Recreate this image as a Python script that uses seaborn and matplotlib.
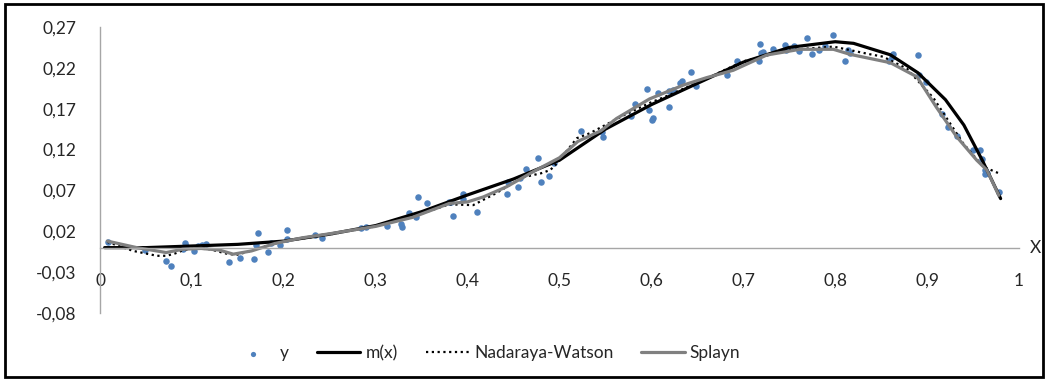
import pandas as pd
import seaborn as sns
from matplotlib import pyplot as plt
from matplotlib.patches import Rectangle
from matplotlib.transforms import Bbox, TransformedBbox

# observed points (y)
obs_x = [0.0082, 0.0495, 0.0716, 0.0769, 0.0900, 0.0930, 0.0936, 0.1023, 0.1070, 0.1110,
         0.1153, 0.1406, 0.1523, 0.1676, 0.1697, 0.1717, 0.1825, 0.1861, 0.1959, 0.2032,
         0.2032, 0.2343, 0.2412, 0.2840, 0.2894, 0.3126, 0.3272, 0.3283, 0.3366, 0.3439,
         0.3464, 0.3561, 0.3800, 0.3819, 0.3836, 0.3945, 0.3945, 0.4099, 0.4434, 0.4436,
         0.4545, 0.4573, 0.4632, 0.4771, 0.4799, 0.4883, 0.4942, 0.5231, 0.5459, 0.5468,
         0.5773, 0.5822, 0.5949, 0.5971, 0.6003, 0.6017, 0.6072, 0.6194, 0.6195, 0.6235,
         0.6308, 0.6338, 0.6436, 0.6487, 0.6819, 0.6928, 0.7176, 0.7187, 0.7193, 0.7218,
         0.7326, 0.7454, 0.7465, 0.7555, 0.7609, 0.7696, 0.7744, 0.7827, 0.7889, 0.7973,
         0.8103, 0.8136, 0.8161, 0.8580, 0.8615, 0.8632, 0.8901, 0.8909, 0.8988, 0.9165,
         0.9222, 0.9320, 0.9503, 0.9572, 0.9597, 0.9627, 0.9633, 0.9649, 0.9779]
obs_y = [0.0072, -0.0029, -0.0164, -0.0222, -0.0017, 0.0056, 0.0020, -0.0038, 0.0020, 0.0038,
         0.0050, -0.0176, -0.0124, -0.0137, 0.0032, 0.0182, -0.0054, 0.0062, 0.0032, 0.0213,
         0.0102, 0.0157, 0.0114, 0.0236, 0.0250, 0.0267, 0.0289, 0.0258, 0.0420, 0.0378,
         0.0616, 0.0542, 0.0562, 0.0562, 0.0389, 0.0656, 0.0591, 0.0432, 0.0656, 0.0803,
         0.0748, 0.0848, 0.0958, 0.1094, 0.0803, 0.0874, 0.1039, 0.1430, 0.1409, 0.1357,
         0.1607, 0.1758, 0.1939, 0.1681, 0.1556, 0.1589, 0.1896, 0.1717, 0.1914, 0.1929,
         0.2011, 0.2039, 0.2146, 0.1980, 0.2107, 0.2284, 0.2284, 0.2490, 0.2386, 0.2398,
         0.2425, 0.2474, 0.2419, 0.2468, 0.2406, 0.2562, 0.2367, 0.2419, 0.2468, 0.2602,
         0.2284, 0.2419, 0.2378, 0.2290, 0.2329, 0.2370, 0.2357, 0.2113, 0.2033, 0.1633,
         0.1480, 0.1368, 0.1191, 0.1191, 0.1081, 0.0950, 0.0905, 0.0917, 0.0681]

# true regression m(x)
mx_x = [0.005, 0.05, 0.10, 0.15, 0.20, 0.25, 0.30, 0.35, 0.40, 0.45, 0.50, 0.55, 0.60,
        0.65, 0.70, 0.75, 0.80, 0.82, 0.86, 0.89, 0.92, 0.94, 0.96, 0.98]
mx_y = [0.000, 0.000, 0.002, 0.004, 0.008, 0.0165, 0.027, 0.044, 0.0645, 0.084, 0.107,
        0.145, 0.175, 0.201, 0.227, 0.245, 0.252, 0.250, 0.236, 0.214, 0.181, 0.150,
        0.107, 0.060]

# Nadaraya-Watson estimate
nw_x = [0.008, 0.036, 0.049, 0.062, 0.0725, 0.082, 0.091, 0.103, 0.12, 0.136, 0.148,
        0.158, 0.175, 0.20, 0.25, 0.30, 0.34, 0.38, 0.406, 0.43, 0.46, 0.48, 0.49, 0.497,
        0.519, 0.533, 0.57, 0.598, 0.62, 0.66, 0.70, 0.75, 0.798, 0.838, 0.852, 0.878,
        0.907, 0.939, 0.961, 0.978]
nw_y = [0.007, -0.004, -0.007, -0.010, -0.010, -0.007, -0.003, -0.001, -0.002, -0.007,
        -0.009, -0.006, 0.000, 0.008, 0.016, 0.026, 0.038, 0.053, 0.052, 0.066, 0.086,
        0.091, 0.095, 0.103, 0.134, 0.140, 0.162, 0.177, 0.187, 0.207, 0.228, 0.242,
        0.246, 0.2366, 0.2337, 0.219, 0.183, 0.128, 0.099, 0.091]

# spline estimate
spl_x = [0.008, 0.04, 0.072, 0.09, 0.11, 0.13, 0.145, 0.165, 0.19, 0.22, 0.25, 0.30,
         0.34, 0.38, 0.40, 0.417, 0.4425, 0.4715, 0.50, 0.52, 0.545, 0.562, 0.598, 0.635,
         0.66, 0.689, 0.7255, 0.7617, 0.798, 0.816, 0.86, 0.889, 0.91, 0.932, 0.954,
         0.965, 0.978]
spl_y = [0.008, 0.000, -0.006, -0.002, -0.001, -0.003, -0.008, -0.004, 0.005, 0.012,
         0.017, 0.026, 0.037, 0.054, 0.056, 0.062, 0.0745, 0.093, 0.110, 0.130, 0.143,
         0.158, 0.182, 0.199, 0.208, 0.217, 0.2357, 0.2427, 0.2427, 0.2366, 0.2263,
         0.209, 0.172, 0.136, 0.107, 0.095, 0.064]

y_ticks = [-0.08, -0.03, 0.02, 0.07, 0.12, 0.17, 0.22, 0.27]
x_ticks = [0, 0.1, 0.2, 0.3, 0.4, 0.5, 0.6, 0.7, 0.8, 0.9, 1]

sns.set_style("white")
plt.rcParams['font.family'] = ['Lato', 'DejaVu Sans']
plt.rcParams['font.size'] = 12.5

fig = plt.figure(figsize=(10.45, 3.8), dpi=100)
ax = fig.add_axes([100 / 1045, 1 - 313 / 380, 919 / 1045, 286 / 380])

sns.scatterplot(x=obs_x, y=obs_y, ax=ax, color='#4f81bd', s=22, linewidth=0, label='y')
sns.lineplot(x=mx_x, y=mx_y, ax=ax, color='black', linewidth=2.3, sort=False, label='m(x)')
sns.lineplot(x=nw_x, y=nw_y, ax=ax, color='black', linewidth=1.6, sort=False,
             linestyle=(0, (1, 1.6)), label='Nadaraya-Watson')
sns.lineplot(x=spl_x, y=spl_y, ax=ax, color='#808080', linewidth=2.3, sort=False, label='Splayn')

ax.set_xlim(0, 1)
ax.set_ylim(-0.08, 0.27)
ax.set_yticks(y_ticks)
ax.set_yticklabels([f"{v:.2f}".replace('.', ',') for v in y_ticks])
ax.set_xticks(x_ticks)
ax.set_xticklabels([f"{v:g}".replace('.', ',') for v in x_ticks])

for s in ['top', 'right']:
    ax.spines[s].set_visible(False)
ax.spines['bottom'].set_position(('data', 0))
for s in ['left', 'bottom']:
    ax.spines[s].set_color('#a6a6a6')
    ax.spines[s].set_linewidth(1)
ax.tick_params(axis='both', length=0, colors='#262626')
ax.tick_params(axis='y', pad=17)
ax.tick_params(axis='x', pad=18)
ax.set_xlabel('')
ax.set_ylabel('')
ax.grid(False)

fig.text(1035 / 1045, 1 - 248 / 380, 'X', ha='center', va='center', color='#262626', fontsize=12.5)

leg = ax.legend(loc='center', bbox_to_anchor=(486 / 1045, 1 - 353 / 380), bbox_transform=fig.transFigure,
                ncol=4, frameon=False, handlelength=2.5, columnspacing=1.6, handletextpad=0.3,
                fontsize=12.5, markerscale=0.8)
# the legend box cuts the bottom of its text, as in the source
clip = TransformedBbox(Bbox([[0, 16 / 380], [1, 1]]), fig.transFigure)
for t in leg.get_texts():
    t.set_clip_box(clip)
    t.set_clip_on(True)

fig.patches.append(Rectangle((5 / 1045, 3 / 380), 1038 / 1045, 373 / 380, transform=fig.transFigure,
                             fill=False, edgecolor='black', linewidth=2))

plt.savefig('out.png', dpi=100)
